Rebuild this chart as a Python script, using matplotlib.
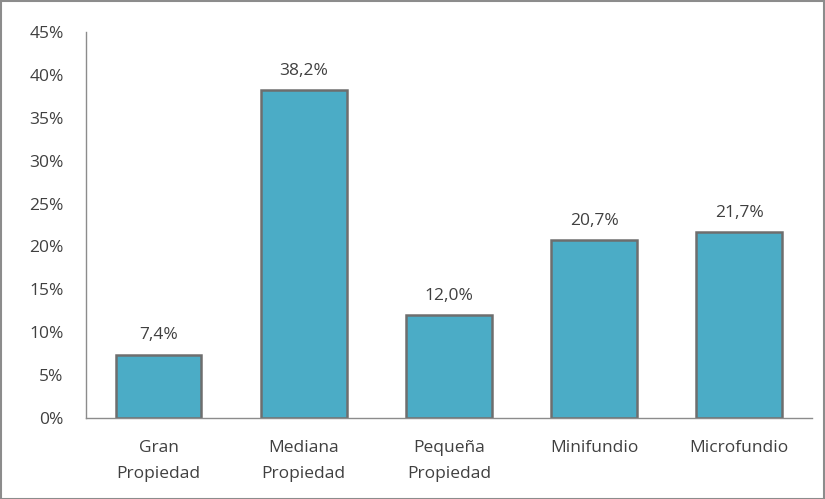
import matplotlib
matplotlib.use("Agg")
import matplotlib.pyplot as plt
from matplotlib.patches import Rectangle

categorias = ["Gran\nPropiedad", "Mediana\nPropiedad", "Pequeña\nPropiedad", "Minifundio", "Microfundio"]
valores = [7.4, 38.2, 12.0, 20.7, 21.7]
etiquetas = ["7,4%", "38,2%", "12,0%", "20,7%", "21,7%"]
yticks = [0, 5, 10, 15, 20, 25, 30, 35, 40, 45]

plt.rcParams['font.family'] = ['Open Sans', 'DejaVu Sans']
txt = "#404040"

fig = plt.figure(figsize=(8.25, 4.99), dpi=100)
ax = fig.add_axes([0.1042, 0.1623, 0.8798, 0.7736])

x = range(len(categorias))
ax.bar(x, valores, width=0.59, color="#4BACC6", edgecolor="#6e6e6e", linewidth=1.8)

for xi, v, lab in zip(x, valores, etiquetas):
    ax.annotate(lab, (xi, v), xytext=(0, 8), textcoords="offset points",
                ha="center", va="bottom", fontsize=12.5, color=txt)

ax.set_xlim(-0.5, len(categorias) - 0.5)
ax.set_ylim(0, 45)
ax.set_yticks(yticks)
ax.set_yticklabels([f"{t}%" for t in yticks], fontsize=12.5, color=txt)
ax.set_xticks(list(x))
ax.set_xticklabels(categorias, fontsize=12.5, color=txt, linespacing=1.85)
ax.tick_params(axis="both", length=0)
ax.tick_params(axis="y", pad=16)
ax.tick_params(axis="x", pad=16)

for s in ["top", "right"]:
    ax.spines[s].set_visible(False)
for s in ["left", "bottom"]:
    ax.spines[s].set_color("#8c8c8c")
    ax.spines[s].set_linewidth(1.0)

# marco gris alrededor de la figura
fig.patches.append(Rectangle((0.001, 0.001), 0.998, 0.996, transform=fig.transFigure,
                             fill=False, edgecolor="#8c8c8c", linewidth=1.5))

fig.savefig("out.png", dpi=100)
